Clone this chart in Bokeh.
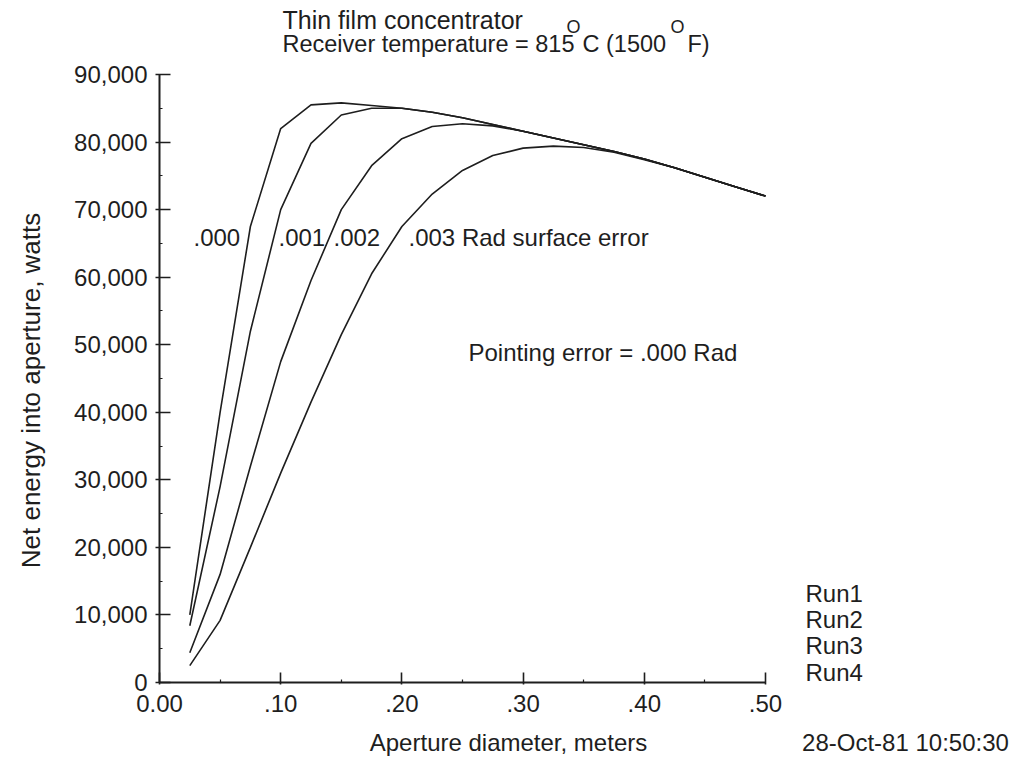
import math
from bokeh.plotting import figure
from bokeh.models import Label, FixedTicker, NumeralTickFormatter, Range1d, LinearAxis
from bokeh.embed import file_html
from bokeh.resources import INLINE

# ---------------- data ----------------
aperture = [0.025, 0.05, 0.075, 0.10, 0.125, 0.15, 0.175, 0.20, 0.225, 0.25,
            0.275, 0.30, 0.325, 0.35, 0.375, 0.40, 0.425, 0.45, 0.475, 0.50]
run1 = [10000, 40000, 67500, 82000, 85500, 85800, 85400, 85000, 84400, 83600,
        82600, 81600, 80600, 79600, 78600, 77500, 76200, 74800, 73400, 72000]
run2 = [8400, 29000, 52000, 70000, 79800, 84000, 85000, 85000, 84400, 83600,
        82600, 81600, 80600, 79600, 78600, 77500, 76200, 74800, 73400, 72000]
run3 = [4400, 16000, 32000, 47500, 59500, 70000, 76500, 80500, 82300, 82700,
        82400, 81600, 80600, 79600, 78600, 77500, 76200, 74800, 73400, 72000]
run4 = [2500, 9200, 20000, 31000, 41500, 51500, 60500, 67500, 72300, 75800,
        78000, 79100, 79400, 79200, 78500, 77400, 76200, 74800, 73400, 72000]
series = [run1, run2, run3, run4]
run_names = ["Run1", "Run2", "Run3", "Run4"]
curve_labels = [".000", ".001", ".002", ".003 Rad surface error"]

x_ticks = [0.0, 0.1, 0.2, 0.3, 0.4, 0.5]
x_tick_labels = ["0.00", ".10", ".20", ".30", ".40", ".50"]
x_minor = [0.05, 0.15, 0.25, 0.35, 0.45]
y_ticks = [0, 10000, 20000, 30000, 40000, 50000, 60000, 70000, 80000, 90000]
y_minor = [5000, 15000, 25000, 35000, 45000, 55000, 65000, 75000, 85000]

title1 = "Thin film concentrator"
title2_parts = ["Receiver temperature = 815", "O", "C (1500", "O", "F)"]
x_title = "Aperture diameter, meters"
y_title = "Net energy into aperture, watts"
note = "Pointing error = .000 Rad"
stamp = "28-Oct-81 10:50:30"

FONT = "Liberation Sans"
INK = "#1e1e1e"

# ---------------- layout (pixels) ----------------
W, H = 1012, 763
FL, FR_X, FB, FT_Y = 159, 765, 682, 74   # x=0 / x=0.5 / y=0 / y=90000 pixel positions


def dx(px):
    return (px - FL) * 0.5 / (FR_X - FL)


def dy(py):
    return (FB - py) * 90000 / (FB - FT_Y)


# frame spans from the left axis to the right edge and from the top edge to y=0,
# so texts around the plot lie inside the frame
p = figure(width=W, height=H, output_backend="svg", toolbar_location=None,
           x_range=Range1d(0, dx(W)), y_range=Range1d(0, dy(0)),
           min_border_left=FL, min_border_right=0,
           min_border_top=0, min_border_bottom=H - FB)
p.outline_line_color = None
p.grid.visible = False
p.background_fill_color = "white"
p.border_fill_color = "white"

for ys in series:
    p.line(aperture, ys, line_color=INK, line_width=1.6)

# axes
xa = p.xaxis[0]
xa.bounds = (0, 0.5)
xa.ticker = FixedTicker(ticks=x_ticks, minor_ticks=x_minor)
xa.major_label_overrides = {t: l for t, l in zip(x_ticks, x_tick_labels)}
ya = p.yaxis[0]
ya.bounds = (0, 90000)
ya.ticker = FixedTicker(ticks=y_ticks, minor_ticks=y_minor)
ya.formatter = NumeralTickFormatter(format="0,0")
for ax in (xa, ya):
    ax.axis_line_color = INK
    ax.axis_line_width = 2
    ax.major_tick_line_color = INK
    ax.major_tick_line_width = 1.6
    ax.minor_tick_line_color = INK
    ax.minor_tick_line_width = 1.2
    ax.major_label_text_font = FONT
    ax.major_label_text_font_size = "24px"
    ax.major_label_text_color = INK
xa.major_tick_in = 10
xa.major_tick_out = 2
xa.minor_tick_in = 3
xa.minor_tick_out = 0
xa.major_label_standoff = 10
ya.major_tick_in = 11
ya.major_tick_out = 4
ya.minor_tick_in = 3
ya.minor_tick_out = 0
ya.major_label_standoff = 8


def text_axis(side, positions, texts, standoff, size, orientation="horizontal"):
    ax = LinearAxis(ticker=FixedTicker(ticks=positions, minor_ticks=[]),
                    major_label_overrides={t: s for t, s in zip(positions, texts)},
                    axis_line_color=None, major_tick_line_color=None,
                    minor_tick_line_color=None, major_tick_in=0, major_tick_out=0,
                    minor_tick_in=0, minor_tick_out=0,
                    major_label_standoff=standoff,
                    major_label_orientation=orientation,
                    major_label_text_font=FONT, major_label_text_font_size=size,
                    major_label_text_color=INK)
    p.add_layout(ax, side)
    return ax


# axis title row below (x title and time stamp) and y title at left
text_axis("below", [dx(508), dx(905)], [x_title, stamp], 14, "24px")
text_axis("left", [dy(390)], [y_title], 26, "26px", orientation="vertical")


def lab(text, px, py, size="24px", align="left"):
    p.add_layout(Label(x=dx(px), y=dy(py), text=text, text_font=FONT,
                       text_font_size=size, text_color=INK, text_align=align,
                       text_baseline="middle"))


# titles
lab(title1, 282, 19, size="25px")
t2_x = [282, 566, 582, 670, 687]
for part, px in zip(title2_parts, t2_x):
    if part == "O":
        lab(part, px, 26, size="18px")
    else:
        lab(part, px, 43, size="23.5px")

# curve annotations
for text, px in zip(curve_labels, [193, 278, 333, 408]):
    lab(text, px, 237)
lab(note, 468, 352)

# run list
for name, py in zip(run_names, [593, 619, 645, 672]):
    lab(name, 805, py)

open("out.html", "w").write(file_html(p, INLINE))
